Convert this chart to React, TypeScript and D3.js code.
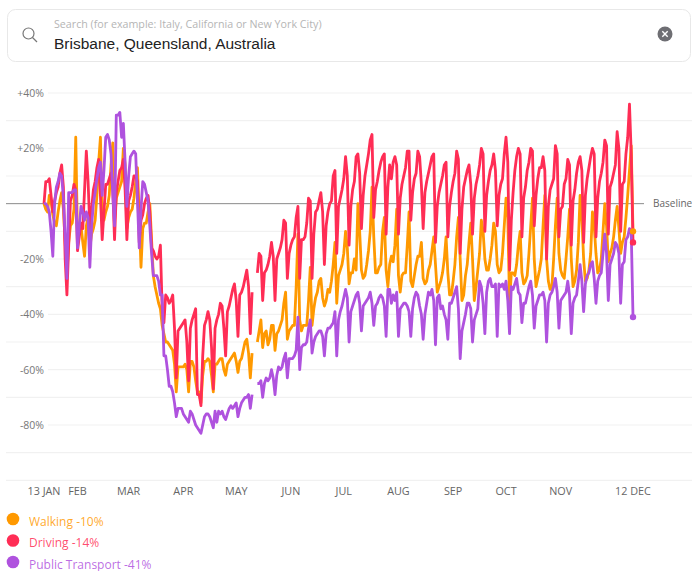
import * as d3 from "d3";
import React from "react";

const width = 692;
const height = 571;

const startDate = "2020-01-13";
const endDate = "2020-12-12";

const tickDates = ["2020-01-13", "2020-02-01", "2020-03-01", "2020-04-01", "2020-05-01", "2020-06-01", "2020-07-01", "2020-08-01", "2020-09-01", "2020-10-01", "2020-11-01", "2020-12-12"];
const tickLabels = ["13 JAN", "FEB", "MAR", "APR", "MAY", "JUN", "JUL", "AUG", "SEP", "OCT", "NOV", "12 DEC"];

const gridValues = [40, 30, 20, 10, -10, -20, -30, -40, -50, -60, -70, -80, -90, -100];
const labelValues = [40, 20, -20, -40, -60, -80];

// one row per week, the gap in May (no data) is null
const walking = [
  0, -2, -3, 3, 1, -4, -7,
  -8, -3, 1, 4, -2, -14, -26,
  -14, -8, -7, -2, 24, -12, -8,
  -8, -14, -19, -8, -5, -16, -11,
  -9, -6, 3, 15, 24, -4, -6,
  -3, -1, 3, 14, 22, -6, 2,
  4, 6, 8, 20, 14, -9, -5,
  -3, -2, 2, 8, 13, -5, -23,
  -9, -7, -7, -3, 0, -13, -26,
  -30, -33, -36, -38, -44, -47, -50,
  -50, -51, -52, -53, -58, -68, -59,
  -59, -59, -59, -58, -60, -68, -57,
  -57, -59, -64, -68, -68, -72, -62,
  -57, -57, -56, -57, -62, -68, -58,
  -58, -57, -56, -56, -60, -62, -58,
  -57, -56, -55, -54, -57, -61, -57,
  -56, -53, -50, -49, -54, -63, -54,
  null, null, -50, -46, -42, -52, -47,
  -46, -51, -49, -44, -44, -53, -47,
  -46, -44, -42, -36, -32, -49, -46,
  -45, -44, -44, -30, -11, -42, -46,
  -44, -44, -44, -35, -23, -44, -38,
  -34, -32, -28, -27, -34, -37, -35,
  -31, -32, -28, -22, -14, -36, -26,
  -24, -22, -18, -10, -16, -29, -25,
  -25, -20, -24, 0, -10, -24, -27,
  -26, -22, -17, -10, 6, -12, -25,
  -25, -23, -22, -10, -5, -24, -30,
  -22, -19, -21, -15, -2, -26, -32,
  -26, -25, -25, -15, -3, -28, -30,
  -26, -22, -19, -19, -14, -27, -29,
  -28, -24, -22, -17, -12, -22, -32,
  -30, -28, -25, -20, -12, -25, -33,
  -33, -28, -22, -12, -5, -20, -35,
  -33, -26, -22, -14, -7, -20, -35,
  -30, -24, -18, -6, -10, -20, -24,
  -24, -20, -15, -7, -10, -22, -25,
  -24, -18, -8, 2, -5, -36, -25,
  -25, -26, -22, -15, -10, -25, -29,
  -28, -26, -18, -8, 2, -20, -30,
  -27, -24, -20, -8, 3, -20, -28,
  -31, -30, -20, -8, 2, -18, -24,
  -26, -27, -20, -12, -2, -20, -30,
  -28, -24, -14, 3, -5, -20, -28,
  -27, -24, -18, -3, -8, -18, -25,
  -24, -20, -10, 0, -8, -21, -18,
  -16, -12, -6, -1, -9, -18, -14,
  -12, -5, 3, 12, 21, -10,
];

const driving = [
  0, 8, 8, 9, 3, -3, 1,
  4, 6, 11, 14, 6, -20, -33,
  -15, 1, 3, 7, 5, -17, -12,
  -7, -9, 5, 19, 8, -9, -2,
  5, 8, 13, 16, 3, -13, -3,
  7, 7, 9, 11, 5, -13, 4,
  8, 12, 13, 16, 5, -13, 1,
  3, 6, 10, 10, 8, -14, -6,
  -4, 0, 2, 3, -3, -16, -17,
  -19, -20, -19, -15, -38, -43, -33,
  -34, -36, -35, -33, -45, -63, -46,
  -45, -44, -43, -42, -50, -64, -45,
  -42, -40, -38, -69, -69, -73, -55,
  -44, -42, -39, -42, -52, -67, -45,
  -42, -40, -36, -37, -45, -55, -39,
  -37, -34, -31, -29, -35, -48, -33,
  -32, -30, -27, -24, -30, -47, -32,
  null, null, -25, -18, -19, -35, -25,
  -24, -22, -19, -14, -19, -35, -20,
  -18, -16, -13, -6, -7, -27, -18,
  -15, -13, -12, -5, -1, -27, -13,
  -13, -12, -7, 2, 1, -27, -11,
  -3, -2, 1, 4, -3, -22, -8,
  -3, 0, 1, 10, 12, -18, -1,
  2, 5, 9, 17, 10, -15, -1,
  5, 8, 17, 18, 11, -9, 3,
  10, 14, 18, 23, 25, -5, 5,
  8, 12, 15, 17, 18, -11, 6,
  14, 9, 15, 17, 14, -11, 2,
  7, 10, 13, 19, 19, -6, 4,
  9, 11, 19, 17, 7, -9, 4,
  8, 11, 14, 17, 18, -14, -1,
  4, 7, 10, 14, 15, -12, -1,
  4, 8, 11, 19, 16, -18, -2,
  6, 9, 12, 14, 7, -11, 2,
  7, 10, 14, 20, 18, -10, 3,
  8, 12, 14, 18, 12, -8, 3,
  7, 9, 18, 24, 15, -24, -6,
  4, 12, 17, 20, 18, -12, 2,
  6, 12, 15, 20, 19, -8, 3,
  9, 13, 13, 17, 12, -20, -1,
  5, 7, 9, 21, 18, -12, -2,
  -1, 7, 9, 16, 14, -15, 1,
  5, 11, 15, 17, 12, -14, 3,
  9, 13, 17, 20, 18, -12, 2,
  8, 11, 15, 23, 21, -11, 6,
  8, 11, 14, 26, 20, -10, 7,
  8, 18, 24, 36, 18, -14,
];

const transport = [
  0, 0, -1, -3, -10, -19, 0,
  6, 8, 11, 10, 2, -12, -27,
  4, 4, 4, 5, 5, -16, -8,
  -1, -3, -6, -3, -5, -23, -8,
  0, 4, 9, 13, 15, 3, 12,
  24, 25, 23, 18, 4, -8, 32,
  32, 33, 24, 29, 15, -1, 10,
  17, 18, 19, 18, 1, -16, -2,
  8, 7, 4, 1, -8, -18, -26,
  -26, -26, -28, -33, -33, -55, -55,
  -60, -66, -66, -68, -72, -77, -74,
  -74, -74, -76, -77, -78, -79, -75,
  -76, -78, -80, -81, -82, -83, -80,
  -77, -76, -76, -77, -79, -81, -75,
  -79, -75, -76, -75, -77, -78, -76,
  -74, -73, -74, -73, -72, -77, -74,
  -72, -71, -70, -70, -69, -74, -69,
  null, null, -65, -65, -64, -70, -65,
  -63, -64, -63, -60, -63, -69, -62,
  -59, -60, -59, -56, -54, -63, -56,
  -56, -56, -55, -53, -41, -60, -52,
  -51, -51, -50, -45, -42, -54, -50,
  -48, -47, -46, -46, -48, -55, -47,
  -45, -45, -44, -43, -39, -55, -42,
  -39, -37, -34, -31, -34, -50, -39,
  -37, -35, -33, -32, -36, -46, -37,
  -36, -35, -34, -32, -36, -44, -37,
  -36, -34, -33, -34, -37, -48, -31,
  -31, -36, -33, -35, -32, -48, -38,
  -37, -36, -36, -37, -39, -48, -38,
  -34, -32, -33, -37, -40, -49, -40,
  -36, -32, -33, -31, -35, -51, -34,
  -33, -38, -37, -40, -42, -49, -36,
  -36, -34, -32, -30, -38, -56, -46,
  -43, -40, -36, -36, -38, -50, -42,
  -40, -38, -28, -30, -36, -47, -32,
  -28, -27, -30, -30, -29, -48, -29,
  -30, -29, -31, -28, -35, -47, -30,
  -31, -29, -27, -32, -33, -43, -36,
  -36, -33, -30, -28, -33, -45, -37,
  -35, -33, -33, -32, -35, -50, -36,
  -33, -32, -30, -27, -32, -45, -35,
  -34, -33, -32, -28, -33, -47, -36,
  -34, -33, -28, -22, -28, -39, -29,
  -26, -25, -22, -21, -27, -36, -28,
  -26, -25, -18, -11, -18, -35, -22,
  -20, -18, -14, -15, -18, -36, -22,
  -21, -13, -12, -9, -10, -41,
];

const seriesNames = ["Walking", "Driving", "Public Transport"];
const seriesColors = ["#ff9900", "#ff2d55", "#af52de"];
const seriesData = [walking, driving, transport];

const parse = d3.utcParse("%Y-%m-%d");
const start = parse(startDate) as Date;

const x = d3.scaleUtc().domain([start, parse(endDate) as Date]).range([44, 633]);
const y = d3.scaleLinear().domain([40, -80]).range([93, 425]);

const lineGen = d3
  .line<number | null>()
  .defined((d) => d !== null)
  .x((_, i) => x(d3.utcDay.offset(start, i)))
  .y((d) => y(d as number));

const pct = (v: number) => (v > 0 ? `+${v}%` : `${v}%`);

const uiFont = "'Open Sans', sans-serif";

const App = () => {
  return (
    <svg width={width} height={height} style={{ position: "absolute", left: 0, top: 0, background: "#fff" }}>
      {/* search box */}
      <rect x={7.5} y={9.5} width={683} height={52} rx={8} fill="#fff" stroke="#e8e8e8" />
      <circle cx={28.5} cy={33.5} r={5.5} fill="none" stroke="#777" strokeWidth={1.2} />
      <line x1={32.5} y1={37.5} x2={37} y2={42} stroke="#777" strokeWidth={1.2} />
      <text x={54} y={28} fontFamily={uiFont} fontSize={10.7} fill="#b5b5b5">
        Search (for example: Italy, California or New York City)
      </text>
      <text x={54} y={49} fontFamily="'Liberation Sans', Arial, sans-serif" fontSize={15.5} fill="#222">
        Brisbane, Queensland, Australia
      </text>
      <circle cx={665} cy={34} r={7.5} fill="#6e6e73" />
      <path d="M662.3 31.3L667.7 36.7M667.7 31.3L662.3 36.7" stroke="#fff" strokeWidth={1.4} />

      {/* grid */}
      {gridValues.map((v) => (
        <line
          key={v}
          x1={labelValues.includes(v) ? 48 : 6}
          x2={692}
          y1={y(v)}
          y2={y(v)}
          stroke="#f1f1f1"
          strokeWidth={1.2}
        />
      ))}
      <line x1={6} x2={644} y1={y(0)} y2={y(0)} stroke="#8a8a8a" strokeWidth={1} />
      <text x={653} y={y(0) + 3.5} fontFamily={uiFont} fontSize={10} fill="#666">
        Baseline
      </text>
      {labelValues.map((v) => (
        <text key={v} x={44} y={y(v) + 4} textAnchor="end" fontFamily={uiFont} fontSize={10.5} fill="#777">
          {pct(v)}
        </text>
      ))}
      {tickDates.map((d, i) => (
        <text
          key={d}
          x={x(parse(d) as Date)}
          y={495}
          textAnchor="middle"
          fontFamily={uiFont}
          fontSize={10.8}
          fill="#666"
        >
          {tickLabels[i]}
        </text>
      ))}

      {/* lines */}
      {seriesData.map((s, i) => (
        <path
          key={seriesNames[i]}
          d={lineGen(s) as string}
          fill="none"
          stroke={seriesColors[i]}
          strokeWidth={2.8}
          strokeLinejoin="round"
        />
      ))}
      {seriesData.map((s, i) => (
        <circle
          key={seriesNames[i]}
          cx={x(d3.utcDay.offset(start, s.length - 1))}
          cy={y(s[s.length - 1] as number)}
          r={3.2}
          fill={seriesColors[i]}
        />
      ))}

      {/* legend */}
      {seriesData.map((s, i) => (
        <g key={seriesNames[i]} transform={`translate(0, ${519 + i * 21.5})`}>
          <circle cx={13} cy={0} r={6.3} fill={seriesColors[i]} />
          <text x={29} y={6.5} fontFamily={uiFont} fontSize={12} fill={seriesColors[i]} fillOpacity={0.85}>
            {seriesNames[i]} {s[s.length - 1]}%
          </text>
        </g>
      ))}
    </svg>
  );
};

export default App;
